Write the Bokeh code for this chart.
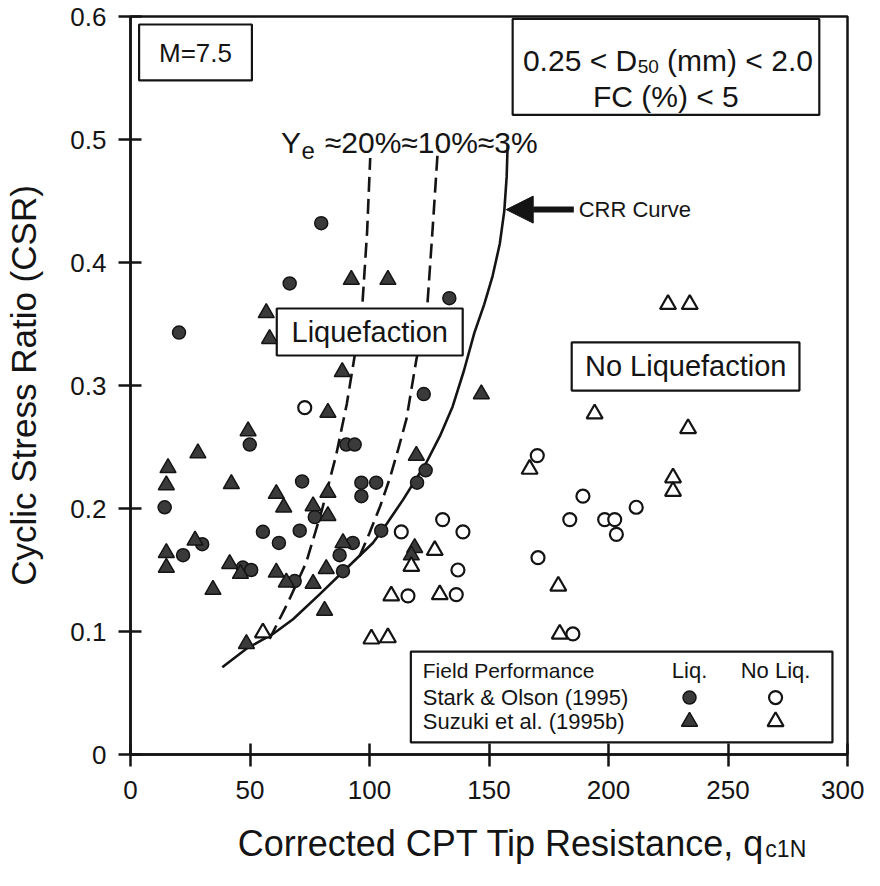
from bokeh.plotting import figure
from bokeh.models import FixedTicker, BoxAnnotation, Label, Arrow, NormalHead, Range1d
from bokeh.layouts import column
from bokeh.core.properties import value
from bokeh.embed import file_html
from bokeh.resources import INLINE

# ---------------- data ----------------
X_TICKS = [0, 50, 100, 150, 200, 250, 300]
X_TICK_LABELS = ["0", "50", "100", "150", "200", "250", "300"]
Y_TICKS = [0, 0.1, 0.2, 0.3, 0.4, 0.5, 0.6]
Y_TICK_LABELS = ["0", "0.1", "0.2", "0.3", "0.4", "0.5", "0.6"]

# Stark & Olson (1995) - liquefaction (filled circles)
so_liq_q = [79.8, 66.6, 20.3, 133.4, 122.7, 49.9, 90.3, 93.8, 71.8, 96.6, 102.8, 96.6,
            123.5, 119.9, 14.3, 77.1, 55.4, 70.8, 104.9, 62.1, 30.0, 22.0, 47.0, 50.5,
            93.0, 87.5, 88.9, 68.7]
so_liq_csr = [0.432, 0.383, 0.343, 0.371, 0.293, 0.252, 0.252, 0.252, 0.222, 0.221, 0.221, 0.210,
              0.231, 0.221, 0.201, 0.193, 0.181, 0.182, 0.182, 0.172, 0.171, 0.162, 0.152, 0.150,
              0.172, 0.162, 0.149, 0.141]

# Suzuki et al. (1995b) - liquefaction (filled triangles)
su_liq_q = [56.8, 58.2, 92.4, 107.7, 88.6, 82.6, 146.8, 49.2, 28.2, 15.7, 15.0, 42.2,
            119.6, 82.6, 61.0, 64.1, 76.4, 82.6, 27.0, 15.0, 15.0, 41.5, 46.0, 61.0,
            65.2, 76.4, 81.9, 81.2, 34.5, 48.5, 88.9, 118.9, 117.5]
su_liq_csr = [0.359, 0.338, 0.386, 0.386, 0.311, 0.278, 0.293, 0.263, 0.245, 0.233, 0.219, 0.220,
              0.243, 0.213, 0.212, 0.201, 0.202, 0.194, 0.174, 0.164, 0.152, 0.155, 0.147, 0.148,
              0.140, 0.139, 0.151, 0.117, 0.134, 0.090, 0.172, 0.168, 0.162]

# Stark & Olson (1995) - no liquefaction (open circles)
so_noliq_q = [72.9, 170.2, 113.3, 130.6, 139.1, 137.0, 170.5, 116.1, 136.3, 189.3, 183.8,
              198.4, 202.6, 203.3, 211.6, 185.1]
so_noliq_csr = [0.282, 0.243, 0.181, 0.191, 0.181, 0.150, 0.160, 0.129, 0.130, 0.210, 0.191,
                0.191, 0.191, 0.179, 0.201, 0.098]

# Suzuki et al. (1995b) - no liquefaction (open triangles)
su_noliq_q = [224.9, 234.0, 194.2, 233.3, 227.0, 227.0, 167.0, 127.3, 117.5, 109.1, 129.4,
              100.8, 107.7, 179.0, 179.6, 55.4]
su_noliq_csr = [0.366, 0.366, 0.277, 0.265, 0.225, 0.214, 0.232, 0.166, 0.153, 0.129, 0.130,
                0.094, 0.095, 0.137, 0.098, 0.099]

# CRR curve (solid) and shear-strain contours (dashed)
crr_q = [38.4, 48.5, 59.6, 68.0, 79.0, 90.2, 101.4, 105.6, 114.0, 123.7, 129.5, 134.8,
         139.5, 143.9, 148.0, 151.5, 154.5, 156.4, 157.4, 157.8]
crr_csr = [0.071, 0.086, 0.098, 0.110, 0.130, 0.151, 0.172, 0.183, 0.207, 0.237, 0.259, 0.283,
           0.312, 0.343, 0.366, 0.389, 0.415, 0.442, 0.470, 0.496]
ye20_q = [58.2, 66.0, 73.5, 80.0, 86.0, 90.5, 93.7, 97.0, 99.0, 100.3]
ye20_csr = [0.094, 0.124, 0.156, 0.198, 0.243, 0.285, 0.323, 0.365, 0.425, 0.485]
ye10_q = [95.8, 100.0, 104.5, 108.4, 112.0, 115.5, 119.6, 122.0, 124.2, 126.5, 128.7]
ye10_csr = [0.161, 0.180, 0.202, 0.224, 0.248, 0.273, 0.321, 0.343, 0.365, 0.430, 0.495]

X_TITLE = "Corrected CPT Tip Resistance, q"
X_TITLE_SUB = "c1N"
Y_TITLE = "Cyclic Stress Ratio (CSR)"

# ---------------- styling ----------------
FONT = "Liberation Sans"
INK = "#141414"
DARK = "#3a3a3a"
W = 864

p = figure(width=W, height=816, x_range=Range1d(0, 300), y_range=Range1d(0, 0.6),
           output_backend="svg", toolbar_location=None, title=None,
           min_border_left=130, min_border_right=17, min_border_top=16, min_border_bottom=62,
           background_fill_color="white", border_fill_color="white")

p.grid.visible = False
p.outline_line_color = INK
p.outline_line_width = 2.5
p.outline_line_alpha = 1

p.xaxis.ticker = FixedTicker(ticks=X_TICKS)
p.yaxis.ticker = FixedTicker(ticks=Y_TICKS)
p.xaxis.major_label_overrides = dict(zip(X_TICKS, X_TICK_LABELS))
p.yaxis.major_label_overrides = dict(zip(Y_TICKS, Y_TICK_LABELS))
for ax in (p.xaxis, p.yaxis):
    ax.minor_tick_line_color = None
    ax.major_tick_in = 11
    ax.major_tick_out = 12
    ax.major_tick_line_width = 2.5
    ax.major_tick_line_color = INK
    ax.axis_line_width = 2.5
    ax.axis_line_color = INK
    ax.major_label_text_font = FONT
    ax.major_label_text_font_size = "26px"
    ax.major_label_text_color = INK
p.yaxis.major_label_standoff = 12
p.xaxis.major_label_standoff = 14
p.yaxis.axis_label = Y_TITLE
p.yaxis.axis_label_text_font = FONT
p.yaxis.axis_label_text_font_size = "35px"
p.yaxis.axis_label_text_font_style = "normal"
p.yaxis.axis_label_text_color = INK
p.yaxis.axis_label_standoff = 24

# curves
p.line(crr_q, crr_csr, line_width=2.6, line_color=INK)
p.line(ye20_q, ye20_csr, line_width=2.6, line_color=INK, line_dash="15 7")
p.line(ye10_q, ye10_csr, line_width=2.6, line_color=INK, line_dash="15 7")

# points
p.scatter(so_liq_q, so_liq_csr, marker="circle", size=13, fill_color=DARK, line_color=INK, line_width=1.5)
p.scatter(su_liq_q, su_liq_csr, marker="triangle", size=16, fill_color=DARK, line_color=INK, line_width=1.5)
p.scatter(so_noliq_q, so_noliq_csr, marker="circle", size=13, fill_color="white", line_color=INK, line_width=2.2)
p.scatter(su_noliq_q, su_noliq_csr, marker="triangle", size=16, fill_color="white", line_color=INK, line_width=2.2)


def box(l, r, t, b):
    p.add_layout(BoxAnnotation(left=l, right=r, top=t, bottom=b, fill_color="white", fill_alpha=1,
                               line_color=INK, line_width=2.2, line_alpha=1))


def text(x, y, s, size, align="left", baseline="middle"):
    p.add_layout(Label(x=x, y=y, text=s, text_font=FONT, text_font_size=size, text_color=INK,
                       text_align=align, text_baseline=baseline))


# M box
box(3.6, 50.8, 0.5935, 0.548)
text(27.2, 0.5707, "M=7.5", "26px", align="center")

# D50 box
box(159.9, 288.2, 0.598, 0.520)
text(212.0, 0.5642, "0.25 < D", "30px", align="right", baseline="alphabetic")
text(212.2, 0.5593, "50", "19px", align="left", baseline="alphabetic")
text(224.5, 0.5642, "(mm) < 2.0", "30px", align="left", baseline="alphabetic")
text(224.0, 0.5350, "FC (%) < 5", "30px", align="center", baseline="alphabetic")

# Liquefaction / No Liquefaction boxes
box(61.2, 139.0, 0.3626, 0.3244)
text(100.1, 0.3435, "Liquefaction", "29px", align="center")
box(184.6, 279.9, 0.3350, 0.2959)
text(232.3, 0.3155, "No Liquefaction", "29px", align="center")

# strain contour labels
text(71.3, 0.4976, "Y", "30px", align="right", baseline="alphabetic")
text(71.5, 0.4911, "e", "24px", align="left", baseline="alphabetic")
text(81.3, 0.4976, "\u224820%\u224810%\u22483%", "30px", align="left", baseline="alphabetic")

# CRR arrow
p.add_layout(Arrow(end=NormalHead(size=27, fill_color=INK, line_color=INK),
                   x_start=185.5, y_start=0.443, x_end=157.2, y_end=0.443,
                   line_width=6, line_color=INK))
text(187.5, 0.443, "CRR Curve", "22px", align="left")

# legend
box(117.3, 293.7, 0.0837, 0.0098)
text(122.3, 0.0683, "Field Performance", "21px")
text(122.3, 0.0463, "Stark & Olson (1995)", "22px")
text(122.3, 0.0268, "Suzuki et al. (1995b)", "22px")
text(233.9, 0.0683, "Liq.", "22px", align="center")
text(269.9, 0.0683, "No Liq.", "22px", align="center")
LEG_X = [233.9, 269.9]
LEG_Y = [0.0463, 0.0268]
r1 = p.scatter([LEG_X[0]], [LEG_Y[0]], marker="circle", size=13, fill_color=DARK, line_color=INK, line_width=1.5)
r2 = p.scatter([LEG_X[0]], [LEG_Y[1]], marker="triangle", size=16, fill_color=DARK, line_color=INK, line_width=1.5)
r3 = p.scatter([LEG_X[1]], [LEG_Y[0]], marker="circle", size=13, fill_color="white", line_color=INK, line_width=2.2)
r4 = p.scatter([LEG_X[1]], [LEG_Y[1]], marker="triangle", size=16, fill_color="white", line_color=INK, line_width=2.2)
for r in (r1, r2, r3, r4):
    r.level = "overlay"

# x-axis title strip (with subscript), pixel coordinates; extra room below the text
HB = 52
pb = figure(width=W, height=HB, x_range=Range1d(0, W), y_range=Range1d(HB, 0), title=None,
            output_backend="svg", toolbar_location=None, x_axis_type=None, y_axis_type=None,
            min_border=0, min_border_left=0, min_border_right=0, min_border_top=0, min_border_bottom=0,
            background_fill_color="white", border_fill_color="white")
pb.grid.visible = False
pb.outline_line_color = None
pb.text(x=[764], y=[27], text=[X_TITLE], text_font=value(FONT), text_font_size="36px",
        text_color=INK, text_align="right", text_baseline="alphabetic")
pb.text(x=[765], y=[32], text=[X_TITLE_SUB], text_font=value(FONT), text_font_size="23px",
        text_color=INK, text_align="left", text_baseline="alphabetic")

layout = column(p, pb, spacing=0)
open("out.html", "w").write(file_html(layout, INLINE))
